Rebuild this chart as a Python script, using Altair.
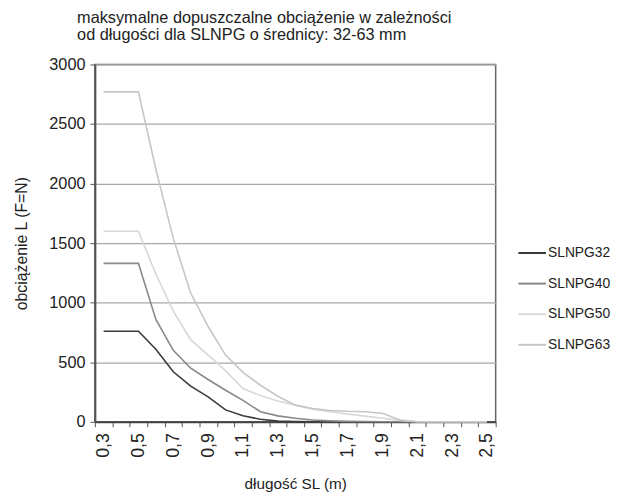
import altair as alt
import pandas as pd

categories = ["0,3", "0,4", "0,5", "0,6", "0,7", "0,8", "0,9", "1,0", "1,1", "1,2", "1,3", "1,4",
              "1,5", "1,6", "1,7", "1,8", "1,9", "2,0", "2,1", "2,2", "2,3", "2,4", "2,5"]
shown_labels = ["0,3", "0,5", "0,7", "0,9", "1,1", "1,3", "1,5", "1,7", "1,9", "2,1", "2,3", "2,5"]
y_ticks = [0, 500, 1000, 1500, 2000, 2500, 3000]
series_names = ["SLNPG32", "SLNPG40", "SLNPG50", "SLNPG63"]
slnpg32 = [760, 760, 760, 610, 420, 300, 210, 100, 50, 22, 6, 2, 0, 0, 0, 0, 0, 0, 0, 0, 0, 0, 0]
slnpg40 = [1330, 1330, 1330, 860, 600, 450, 355, 265, 180, 85, 50, 30, 15, 8, 4, 2, 0, 0, 0, 0, 0, 0, 0]
slnpg50 = [1600, 1600, 1600, 1240, 930, 690, 560, 430, 280, 220, 175, 140, 105, 85, 65, 48, 30, 12, 0, 0, 0, 0, 0]
slnpg63 = [2770, 2770, 2770, 2120, 1540, 1080, 800, 560, 415, 307, 215, 140, 112, 95, 88, 85, 72, 15, 0, 0, 0, 0, 0]
series_colors = ["#3a3a3a", "#888888", "#d8d8d8", "#c6c6c6"]

rows = []
for name, vals in zip(series_names, [slnpg32, slnpg40, slnpg50, slnpg63]):
    for c, v in zip(categories, vals):
        rows.append({"dl": c, "val": v, "seria": name})
df = pd.DataFrame(rows)

FONT = "Liberation Sans"
label_list = "[" + ",".join("'" + s + "'" for s in shown_labels) + "]"

chart = alt.Chart(df).mark_line(strokeWidth=1.6).encode(
    x=alt.X("dl:O", sort=categories,
            scale=alt.Scale(type="band", paddingInner=0, paddingOuter=0),
            axis=alt.Axis(title="długość SL (m)", labelAngle=-90, tickBand="extent",
                          labelExpr="indexof(" + label_list + ", datum.value) >= 0 ? datum.value : ''",
                          labelFontSize=18, labelPadding=6, tickSize=5, tickColor="#555",
                          domainColor="#444", domainWidth=2, titleFontSize=15.5, titleFontWeight="normal",
                          titleY=63, titleBaseline="middle", grid=False)),
    y=alt.Y("val:Q", scale=alt.Scale(domain=[0, 3000], nice=False),
            axis=alt.Axis(title="obciążenie L (F=N)", values=y_ticks, format="d",
                          labelFontSize=16.5, labelPadding=5, tickSize=5, tickColor="#555",
                          domainColor="#555", domainWidth=2, gridColor="#a8a8a8", gridWidth=1.2,
                          titleFontSize=16, titleFontWeight="normal", titleAngle=-90,
                          titleX=-74, titleY=181, titleAlign="center", titleBaseline="middle")),
    color=alt.Color("seria:N", scale=alt.Scale(domain=series_names, range=series_colors),
                    legend=alt.Legend(title=None, orient="none", legendX=428, legendY=176,
                                      symbolType="stroke", symbolSize=784, symbolStrokeWidth=2,
                                      labelFontSize=14, rowPadding=9, labelOffset=1, padding=0)),
).properties(
    width=406,
    height=362,
    title=alt.TitleParams(
        text=["maksymalne dopuszczalne obciążenie w zależności",
              "od długości dla SLNPG o średnicy: 32-63 mm"],
        anchor="start", frame="group", fontSize=16.5, fontWeight="normal", font=FONT, color="#222",
        lineHeight=18, dx=-18, offset=13),
    autosize=alt.AutoSizeParams(type="none"),
    padding={"left": 88, "top": 54, "right": 130, "bottom": 75},
).configure(font=FONT).configure_axis(
    labelFont=FONT, titleFont=FONT, labelColor="#222", titleColor="#222"
).configure_legend(labelFont=FONT, labelColor="#222").configure_view(
    stroke="#666", strokeWidth=1.5
)

chart.save("out.html", embed_options={"renderer": "svg", "actions": False})
